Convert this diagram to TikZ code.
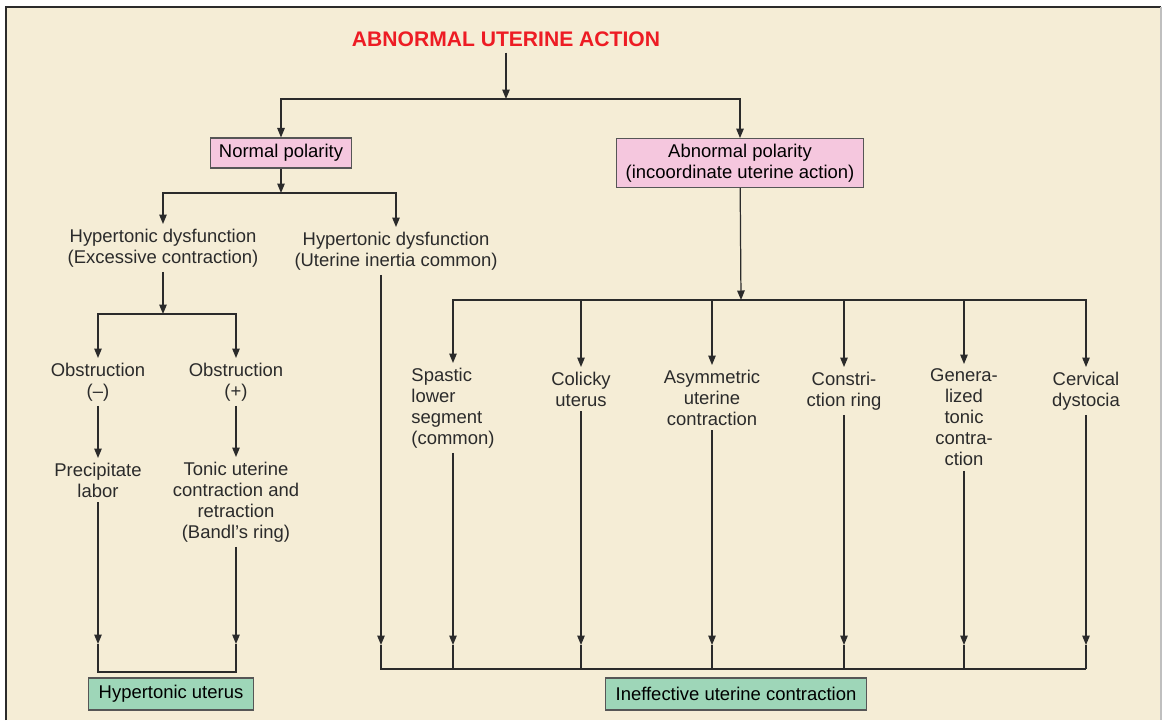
\documentclass[tikz,border=0pt]{standalone}
\usepackage{fontspec}
\setmainfont{Liberation Sans}
\usetikzlibrary{arrows.meta,positioning}
\definecolor{eggshell}{rgb}{0.96,0.93,0.84}
\definecolor{pastelpink}{rgb}{0.96,0.78,0.87}
\definecolor{mintgreen}{rgb}{0.62,0.84,0.72}
\definecolor{titlered}{rgb}{0.93,0.11,0.14}
\definecolor{charcoal}{rgb}{0.17,0.17,0.17}
\newcommand{\letra}{\fontsize{10.5}{12}\selectfont}
\tikzset{
  caja/.style={
    draw=charcoal!80,
    fill=pastelpink,
    align=center,
    inner xsep=5pt,
    inner ysep=3pt,
    minimum height=.6cm,
    line width=.6pt
  },
  resultado/.style={
    draw=charcoal!80,
    fill=mintgreen,
    align=center,
    inner xsep=6pt,
    minimum height=.64cm,
    line width=.6pt
  },
  etiqueta/.style={
    align=center,
    inner sep=2.5pt,
    text=charcoal,
    anchor=north
  },
  arrow/.style={
    -{Triangle[length=1.9mm,width=1.5mm]},
    line width=.7pt,
    charcoal
  },
  linea/.style={
    line width=.7pt,
    charcoal
  }
}

\begin{document}
\begin{tikzpicture}[x=.02cm,y=-.02cm,font=\letra]
\fill[white] (0,0) rectangle (1163,720);
\fill[eggshell] (6,7) rectangle (1161,720);
\draw[charcoal,line width=1.2pt] (6,720) -- (6,7) -- (1161,7);
\draw[black!25,line width=.6pt] (1161,7) -- (1161,720);
\useasboundingbox (0,0) rectangle (1163,720);

\node[font=\fontsize{12}{14}\selectfont\bfseries,text=titlered] (accion) at (506,39) {ABNORMAL UTERINE ACTION};
\node[caja] (normal) at (281,153) {Normal polarity};
\node[caja] (anormal) at (740,163) {Abnormal polarity\\(incoordinate uterine action)};
\coordinate (rama) at (506,99);
\draw[arrow] (accion) -- (rama);
\draw[arrow] (rama) -| (normal);
\draw[arrow] (rama) -| (anormal);

\node[etiqueta] (hiper) at (163,224) {Hypertonic dysfunction\\(Excessive contraction)};
\node[etiqueta] (inercia) at (396,227) {Hypertonic dysfunction\\(Uterine inertia common)};
\coordinate (nrama) at (281,193);
\draw[arrow] (normal) -- (nrama);
\draw[arrow] (nrama) -| (hiper);
\draw[arrow] (nrama) -| (inercia);

\node[etiqueta] (obsmenos) at (98,358) {Obstruction\\(--)};
\node[etiqueta] (obsmas) at (236,358) {Obstruction\\(+)};
\coordinate (orama) at (163,314);
\draw[arrow] (hiper) -- (orama);
\draw[arrow] (orama) -| (obsmenos);
\draw[arrow] (orama) -| (obsmas);

\node[etiqueta] (precip) at (98,458) {Precipitate\\labor};
\node[etiqueta] (tonica) at (236,457) {Tonic uterine\\contraction and\\retraction\\(Bandl's ring)};
\draw[arrow] (obsmenos) -- (precip);
\draw[arrow] (obsmas) -- (tonica);

\node[etiqueta,align=left] (espastico) at (453,363) {Spastic\\lower\\segment\\(common)};
\node[etiqueta] (colico) at (581,367) {Colicky\\uterus};
\node[etiqueta] (asimetrico) at (712,365) {Asymmetric\\uterine\\contraction};
\node[etiqueta] (anillo) at (844,367) {Constri-\\ction ring};
\node[etiqueta] (generalizada) at (964,364) {Genera-\\lized\\tonic\\contra-\\ction};
\node[etiqueta] (cervical) at (1086,367) {Cervical\\dystocia};
\coordinate (arama) at (741,300);
\draw[arrow] (anormal) -- (arama);
\foreach \n in {espastico,colico,asimetrico,anillo,generalizada,cervical}
  \draw[arrow] (arama) -| (\n);

\node[resultado] (hiperut) at (171,694) {Hypertonic uterus};
\coordinate (baseH) at (98,672);
\coordinate (puntaH) at (98,644);
\draw[arrow] (precip) -- (precip |- puntaH);
\draw[arrow] (tonica) -- (tonica |- puntaH);
\draw[linea] (precip |- puntaH) |- (tonica |- baseH) -- (tonica |- puntaH);

\node[resultado] (ineficaz) at (736,694) {Ineffective uterine contraction};
\coordinate (baseI) at (381,669);
\coordinate (puntaI) at (381,645);
\draw[arrow] (inercia.south -| baseI) -- (puntaI);
\draw[linea] (puntaI) |- (cervical |- baseI);
\foreach \n in {espastico,colico,asimetrico,anillo,generalizada,cervical} {
  \draw[arrow] (\n) -- (\n |- puntaI);
  \draw[linea] (\n |- puntaI) -- (\n |- baseI);
}
\end{tikzpicture}
\end{document}
